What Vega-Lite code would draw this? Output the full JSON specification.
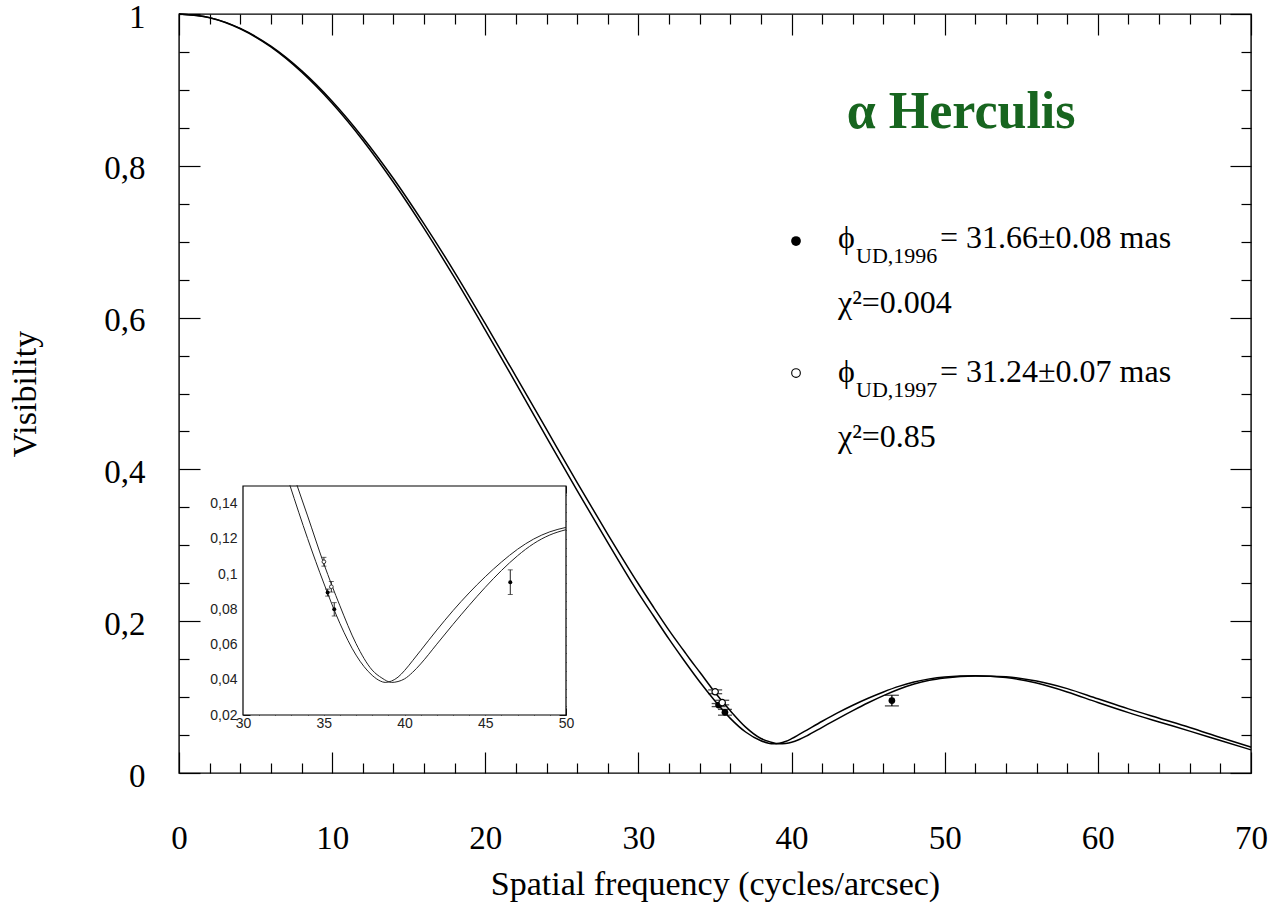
{
  "$schema": "https://vega.github.io/schema/vega-lite/v6.json",
  "width": 1072,
  "height": 759,
  "autosize": {"type": "none"},
  "padding": {"left": 179, "top": 14, "right": 26, "bottom": 134},
  "background": "white",
  "config": {
    "view": {"stroke": "#000", "strokeWidth": 1.4},
    "axis": {"domain": false, "grid": false, "tickColor": "#000", "labelColor": "#000", "titleColor": "#000", "titleFontWeight": "normal", "labelOverlap": false, "labelFlush": false}
  },
  "datasets": {
    "curves": [
      {"model": "1996", "u": 0, "V": 1}, {"model": "1996", "u": 2, "V": 0.9951}, {"model": "1996", "u": 4, "V": 0.9805}, {"model": "1996", "u": 6, "V": 0.9566},
      {"model": "1996", "u": 8, "V": 0.9236}, {"model": "1996", "u": 10, "V": 0.8824}, {"model": "1996", "u": 12, "V": 0.8337}, {"model": "1996", "u": 14, "V": 0.7783},
      {"model": "1996", "u": 16, "V": 0.7175}, {"model": "1996", "u": 18, "V": 0.6522}, {"model": "1996", "u": 20, "V": 0.5836}, {"model": "1996", "u": 22, "V": 0.5134},
      {"model": "1996", "u": 24, "V": 0.4423}, {"model": "1996", "u": 26, "V": 0.372}, {"model": "1996", "u": 28, "V": 0.3035}, {"model": "1996", "u": 30, "V": 0.237},
      {"model": "1996", "u": 31, "V": 0.2065}, {"model": "1996", "u": 32, "V": 0.1763}, {"model": "1996", "u": 32.9, "V": 0.1505}, {"model": "1996", "u": 34, "V": 0.1202},
      {"model": "1996", "u": 35, "V": 0.0949}, {"model": "1996", "u": 36, "V": 0.072}, {"model": "1996", "u": 37, "V": 0.054}, {"model": "1996", "u": 38, "V": 0.0425},
      {"model": "1996", "u": 38.5, "V": 0.0393}, {"model": "1996", "u": 38.8, "V": 0.0385}, {"model": "1996", "u": 39.2, "V": 0.0393}, {"model": "1996", "u": 39.6, "V": 0.0415},
      {"model": "1996", "u": 40, "V": 0.0452}, {"model": "1996", "u": 40.5, "V": 0.0508}, {"model": "1996", "u": 41, "V": 0.0566}, {"model": "1996", "u": 42, "V": 0.0682},
      {"model": "1996", "u": 43, "V": 0.0792}, {"model": "1996", "u": 44, "V": 0.0893}, {"model": "1996", "u": 45, "V": 0.0985}, {"model": "1996", "u": 46, "V": 0.1068},
      {"model": "1996", "u": 47, "V": 0.1141}, {"model": "1996", "u": 48, "V": 0.1199}, {"model": "1996", "u": 49, "V": 0.124}, {"model": "1996", "u": 50, "V": 0.1265},
      {"model": "1996", "u": 52, "V": 0.1282}, {"model": "1996", "u": 54, "V": 0.1258}, {"model": "1996", "u": 56, "V": 0.1185}, {"model": "1996", "u": 58, "V": 0.1068},
      {"model": "1996", "u": 60, "V": 0.0928}, {"model": "1996", "u": 62, "V": 0.0795}, {"model": "1996", "u": 64, "V": 0.0672}, {"model": "1996", "u": 66, "V": 0.0552},
      {"model": "1996", "u": 68, "V": 0.0428}, {"model": "1996", "u": 70, "V": 0.0305},
      {"model": "1997", "u": 0, "V": 1}, {"model": "1997", "u": 2, "V": 0.9952}, {"model": "1997", "u": 4, "V": 0.981}, {"model": "1997", "u": 6, "V": 0.9576},
      {"model": "1997", "u": 8, "V": 0.9254}, {"model": "1997", "u": 10, "V": 0.8851}, {"model": "1997", "u": 12, "V": 0.8374}, {"model": "1997", "u": 14, "V": 0.7833},
      {"model": "1997", "u": 16, "V": 0.7235}, {"model": "1997", "u": 18, "V": 0.6597}, {"model": "1997", "u": 20, "V": 0.592}, {"model": "1997", "u": 22, "V": 0.5226},
      {"model": "1997", "u": 24, "V": 0.4526}, {"model": "1997", "u": 26, "V": 0.3825}, {"model": "1997", "u": 28, "V": 0.3145}, {"model": "1997", "u": 30, "V": 0.249},
      {"model": "1997", "u": 31, "V": 0.218}, {"model": "1997", "u": 32, "V": 0.188}, {"model": "1997", "u": 33, "V": 0.16}, {"model": "1997", "u": 33.34, "V": 0.1505},
      {"model": "1997", "u": 34, "V": 0.133}, {"model": "1997", "u": 35, "V": 0.106}, {"model": "1997", "u": 36, "V": 0.082}, {"model": "1997", "u": 37, "V": 0.0605},
      {"model": "1997", "u": 38, "V": 0.0455}, {"model": "1997", "u": 38.6, "V": 0.041}, {"model": "1997", "u": 39.2, "V": 0.0385}, {"model": "1997", "u": 39.6, "V": 0.039},
      {"model": "1997", "u": 40, "V": 0.0405}, {"model": "1997", "u": 40.5, "V": 0.0442}, {"model": "1997", "u": 41, "V": 0.049}, {"model": "1997", "u": 42, "V": 0.0602},
      {"model": "1997", "u": 43, "V": 0.0714}, {"model": "1997", "u": 44, "V": 0.0822}, {"model": "1997", "u": 45, "V": 0.0925}, {"model": "1997", "u": 46, "V": 0.102},
      {"model": "1997", "u": 47, "V": 0.1104}, {"model": "1997", "u": 48, "V": 0.1173}, {"model": "1997", "u": 49, "V": 0.1222}, {"model": "1997", "u": 50, "V": 0.1252},
      {"model": "1997", "u": 52, "V": 0.1278}, {"model": "1997", "u": 54, "V": 0.1268}, {"model": "1997", "u": 56, "V": 0.1212}, {"model": "1997", "u": 58, "V": 0.1112},
      {"model": "1997", "u": 60, "V": 0.0978}, {"model": "1997", "u": 62, "V": 0.0845}, {"model": "1997", "u": 64, "V": 0.0722}, {"model": "1997", "u": 66, "V": 0.06},
      {"model": "1997", "u": 68, "V": 0.0468}, {"model": "1997", "u": 70, "V": 0.034}
    ],
    "obs": [
      {"epoch": "1996", "u": 35.24, "V": 0.0895, "lo": 0.0875, "hi": 0.0915},
      {"epoch": "1996", "u": 35.65, "V": 0.08, "lo": 0.0762, "hi": 0.0838},
      {"epoch": "1996", "u": 46.55, "V": 0.0954, "lo": 0.0884, "hi": 0.1024},
      {"epoch": "1997", "u": 35.01, "V": 0.107, "lo": 0.1045, "hi": 0.1095},
      {"epoch": "1997", "u": 35.47, "V": 0.0928, "lo": 0.0898, "hi": 0.0958}
    ],
    "legendsym": [
      {"epoch": "1996", "u": 40.29, "V": 0.7009},
      {"epoch": "1997", "u": 40.29, "V": 0.527}
    ],
    "notes": [
      {"role": "title", "label": "α Herculis", "u": 43.6, "V": 0.8498},
      {"role": "main", "label": "ϕ", "u": 43.03, "V": 0.6917},
      {"role": "sub", "label": "UD,1996", "u": 44.21, "V": 0.6719},
      {"role": "main", "label": "= 31.66±0.08 mas", "u": 49.69, "V": 0.6917},
      {"role": "main", "label": "χ²=0.004", "u": 43.03, "V": 0.606},
      {"role": "main", "label": "ϕ", "u": 43.03, "V": 0.5152},
      {"role": "sub", "label": "UD,1997", "u": 44.21, "V": 0.4954},
      {"role": "main", "label": "= 31.24±0.07 mas", "u": 49.69, "V": 0.5152},
      {"role": "main", "label": "χ²=0.85", "u": 43.03, "V": 0.4295}
    ]
  },
  "resolve": {"scale": {"x": "independent", "y": "independent"}, "axis": {"x": "independent", "y": "independent"}},
  "layer": [
    {
      "layer": [
        {
          "data": {"name": "curves"},
          "mark": {"type": "line", "stroke": "#000", "strokeWidth": 1.5, "interpolate": "monotone"},
          "encoding": {
            "x": {"field": "u", "type": "quantitative", "scale": {"domain": [0, 70], "nice": false, "zero": false},
              "axis": {"orient": "bottom", "tickCount": 200, "values": [0,2,4,6,8,10,12,14,16,18,20,22,24,26,28,30,32,34,36,38,40,42,44,46,48,50,52,54,56,58,60,62,64,66,68,70],
                "tickSize": {"condition": {"test": "datum.value % 10 === 0", "value": -21}, "value": -10}, "tickWidth": 1.2,
                "labelExpr": "datum.value % 10 === 0 ? format(datum.value, 'd') : ''", "labelOverlap": false, "labelFlush": false,
                "labelFont": "Liberation Serif", "labelFontSize": 33, "labelPadding": 70,
                "title": "Spatial frequency (cycles/arcsec)", "titleFont": "Liberation Serif", "titleFontSize": 34, "titlePadding": 1}},
            "y": {"field": "V", "type": "quantitative", "scale": {"domain": [0, 1], "nice": false, "zero": false},
              "axis": {"orient": "left", "tickCount": 200, "values": [0,0.05,0.1,0.15,0.2,0.25,0.3,0.35,0.4,0.45,0.5,0.55,0.6,0.65,0.7,0.75,0.8,0.85,0.9,0.95,1],
                "tickSize": {"condition": {"test": "round(datum.value*100) % 20 === 0", "value": -21}, "value": -10}, "tickWidth": 1.2,
                "labelExpr": "round(datum.value*100) % 20 === 0 ? replace(format(datum.value, '~g'), '.', ',') : ''", "labelOverlap": false, "labelFlush": false,
                "labelFont": "Liberation Serif", "labelFontSize": 33, "labelPadding": 55, "labelOffset": 3,
                "title": "Visibility", "titleFont": "Liberation Serif", "titleFontSize": 34, "titlePadding": 61}},
            "detail": {"field": "model"}
          }
        },
        {
          "data": {"name": "obs"},
          "mark": {"type": "rule", "stroke": "#000", "strokeWidth": 1.3},
          "encoding": {
            "x": {"field": "u", "type": "quantitative", "scale": {"domain": [0, 70], "nice": false, "zero": false}},
            "y": {"field": "lo", "type": "quantitative", "scale": {"domain": [0, 1], "nice": false, "zero": false}},
            "y2": {"field": "hi"}
          }
        },
        {
          "data": {"name": "obs"},
          "mark": {"type": "tick", "orient": "horizontal", "color": "#000", "size": 14, "thickness": 1.3},
          "encoding": {
            "x": {"field": "u", "type": "quantitative", "scale": {"domain": [0, 70], "nice": false, "zero": false}},
            "y": {"field": "lo", "type": "quantitative", "scale": {"domain": [0, 1], "nice": false, "zero": false}}
          }
        },
        {
          "data": {"name": "obs"},
          "mark": {"type": "tick", "orient": "horizontal", "color": "#000", "size": 14, "thickness": 1.3},
          "encoding": {
            "x": {"field": "u", "type": "quantitative", "scale": {"domain": [0, 70], "nice": false, "zero": false}},
            "y": {"field": "hi", "type": "quantitative", "scale": {"domain": [0, 1], "nice": false, "zero": false}}
          }
        },
        {
          "data": {"name": "obs"},
          "transform": [{"filter": "datum.epoch === '1996'"}],
          "mark": {"type": "point", "shape": "circle", "filled": true, "color": "#000", "size": 45, "opacity": 1},
          "encoding": {
            "x": {"field": "u", "type": "quantitative", "scale": {"domain": [0, 70], "nice": false, "zero": false}},
            "y": {"field": "V", "type": "quantitative", "scale": {"domain": [0, 1], "nice": false, "zero": false}}
          }
        },
        {
          "data": {"name": "obs"},
          "transform": [{"filter": "datum.epoch === '1997'"}],
          "mark": {"type": "point", "shape": "circle", "filled": false, "fill": "white", "stroke": "#000", "strokeWidth": 1.2, "size": 40, "opacity": 1},
          "encoding": {
            "x": {"field": "u", "type": "quantitative", "scale": {"domain": [0, 70], "nice": false, "zero": false}},
            "y": {"field": "V", "type": "quantitative", "scale": {"domain": [0, 1], "nice": false, "zero": false}}
          }
        },
        {
          "data": {"name": "legendsym"},
          "transform": [{"filter": "datum.epoch === '1996'"}],
          "mark": {"type": "point", "shape": "circle", "filled": true, "color": "#000", "size": 95, "opacity": 1},
          "encoding": {
            "x": {"field": "u", "type": "quantitative", "scale": {"domain": [0, 70], "nice": false, "zero": false}},
            "y": {"field": "V", "type": "quantitative", "scale": {"domain": [0, 1], "nice": false, "zero": false}}
          }
        },
        {
          "data": {"name": "legendsym"},
          "transform": [{"filter": "datum.epoch === '1997'"}],
          "mark": {"type": "point", "shape": "circle", "filled": false, "fill": "white", "stroke": "#000", "strokeWidth": 1.1, "size": 75, "opacity": 1},
          "encoding": {
            "x": {"field": "u", "type": "quantitative", "scale": {"domain": [0, 70], "nice": false, "zero": false}},
            "y": {"field": "V", "type": "quantitative", "scale": {"domain": [0, 1], "nice": false, "zero": false}}
          }
        },
        {
          "data": {"name": "notes"},
          "transform": [{"filter": "datum.role === 'title'"}],
          "mark": {"type": "text", "font": "Liberation Serif", "fontWeight": "bold", "fontSize": 52, "color": "#17651f", "align": "left", "baseline": "alphabetic"},
          "encoding": {
            "x": {"field": "u", "type": "quantitative", "scale": {"domain": [0, 70], "nice": false, "zero": false}},
            "y": {"field": "V", "type": "quantitative", "scale": {"domain": [0, 1], "nice": false, "zero": false}},
            "text": {"field": "label"}
          }
        },
        {
          "data": {"name": "notes"},
          "transform": [{"filter": "datum.role === 'main'"}],
          "mark": {"type": "text", "font": "Liberation Serif", "fontSize": 32, "color": "#000", "align": "left", "baseline": "alphabetic"},
          "encoding": {
            "x": {"field": "u", "type": "quantitative", "scale": {"domain": [0, 70], "nice": false, "zero": false}},
            "y": {"field": "V", "type": "quantitative", "scale": {"domain": [0, 1], "nice": false, "zero": false}},
            "text": {"field": "label"}
          }
        },
        {
          "data": {"name": "notes"},
          "transform": [{"filter": "datum.role === 'sub'"}],
          "mark": {"type": "text", "font": "Liberation Serif", "fontSize": 22, "color": "#000", "align": "left", "baseline": "alphabetic"},
          "encoding": {
            "x": {"field": "u", "type": "quantitative", "scale": {"domain": [0, 70], "nice": false, "zero": false}},
            "y": {"field": "V", "type": "quantitative", "scale": {"domain": [0, 1], "nice": false, "zero": false}},
            "text": {"field": "label"}
          }
        }
      ]
    },
    {
      "data": {"name": "curves"},
      "mark": {"type": "point", "opacity": 0},
      "encoding": {
        "x": {"field": "u", "type": "quantitative", "scale": {"domain": [0, 70], "nice": false, "zero": false},
          "axis": {"orient": "top", "tickCount": 200, "values": [0,2,4,6,8,10,12,14,16,18,20,22,24,26,28,30,32,34,36,38,40,42,44,46,48,50,52,54,56,58,60,62,64,66,68,70],
            "tickSize": {"condition": {"test": "datum.value % 10 === 0", "value": -21}, "value": -10}, "tickWidth": 1.2, "labels": false, "title": null}},
        "y": {"field": "V", "type": "quantitative", "scale": {"domain": [0, 1], "nice": false, "zero": false},
          "axis": {"orient": "right", "tickCount": 200, "values": [0,0.05,0.1,0.15,0.2,0.25,0.3,0.35,0.4,0.45,0.5,0.55,0.6,0.65,0.7,0.75,0.8,0.85,0.9,0.95,1],
            "tickSize": {"condition": {"test": "round(datum.value*100) % 20 === 0", "value": -21}, "value": -10}, "tickWidth": 1.2, "labels": false, "title": null}}
      }
    },
    {
      "layer": [
        {
          "data": {"values": [{"frame": "inset"}]},
          "mark": {"type": "rect", "fill": "white", "stroke": "#000", "strokeWidth": 1.2},
          "encoding": {
            "x": {"datum": 30, "type": "quantitative", "scale": {"domain": [30, 50], "range": [64, 387], "nice": false, "zero": false},
              "axis": {"orient": "bottom", "offset": -58, "tickCount": 200, "values": [30,31,32,33,34,35,36,37,38,39,40,41,42,43,44,45,46,47,48,49,50],
                "tickSize": {"condition": {"test": "datum.value % 5 === 0", "value": -7}, "value": -4}, "tickWidth": 1, "tickColor": "#222",
                "labelExpr": "datum.value % 5 === 0 ? format(datum.value, 'd') : ''", "labelOverlap": false, "labelFlush": false,
                "labelFont": "Liberation Sans", "labelFontSize": 14, "labelColor": "#222", "labelPadding": 8, "title": null}},
            "x2": {"datum": 50},
            "y": {"datum": 0.02, "type": "quantitative", "scale": {"domain": [0.02, 0.15], "range": [701, 472], "nice": false, "zero": false},
              "axis": {"orient": "left", "offset": -64, "tickCount": 200, "values": [0.02,0.025,0.03,0.035,0.04,0.045,0.05,0.055,0.06,0.065,0.07,0.075,0.08,0.085,0.09,0.095,0.1,0.105,0.11,0.115,0.12,0.125,0.13,0.135,0.14,0.145,0.15],
                "tickSize": {"condition": {"test": "round(datum.value*1000) % 20 === 0", "value": -7}, "value": -4}, "tickWidth": 1, "tickColor": "#222",
                "labelExpr": "round(datum.value*1000) % 20 === 0 && datum.value < 0.149 ? replace(format(datum.value, '~g'), '.', ',') : ''", "labelOverlap": false, "labelFlush": false,
                "labelFont": "Liberation Sans", "labelFontSize": 14, "labelColor": "#222", "labelPadding": 13, "title": null}},
            "y2": {"datum": 0.15}
          }
        },
        {
          "data": {"name": "curves"},
          "transform": [{"filter": "datum.u >= 30 && datum.u <= 50 && datum.V <= 0.1506"}],
          "mark": {"type": "line", "stroke": "#222", "strokeWidth": 1, "interpolate": "monotone"},
          "encoding": {
            "x": {"field": "u", "type": "quantitative", "scale": {"domain": [30, 50], "range": [64, 387], "nice": false, "zero": false}},
            "y": {"field": "V", "type": "quantitative", "scale": {"domain": [0.02, 0.15], "range": [701, 472], "nice": false, "zero": false}},
            "detail": {"field": "model"}
          }
        },
        {
          "data": {"name": "obs"},
          "mark": {"type": "rule", "stroke": "#222", "strokeWidth": 1},
          "encoding": {
            "x": {"field": "u", "type": "quantitative", "scale": {"domain": [30, 50], "range": [64, 387], "nice": false, "zero": false}},
            "y": {"field": "lo", "type": "quantitative", "scale": {"domain": [0.02, 0.15], "range": [701, 472], "nice": false, "zero": false}},
            "y2": {"field": "hi"}
          }
        },
        {
          "data": {"name": "obs"},
          "mark": {"type": "tick", "orient": "horizontal", "color": "#222", "size": 5, "thickness": 1},
          "encoding": {
            "x": {"field": "u", "type": "quantitative", "scale": {"domain": [30, 50], "range": [64, 387], "nice": false, "zero": false}},
            "y": {"field": "lo", "type": "quantitative", "scale": {"domain": [0.02, 0.15], "range": [701, 472], "nice": false, "zero": false}}
          }
        },
        {
          "data": {"name": "obs"},
          "mark": {"type": "tick", "orient": "horizontal", "color": "#222", "size": 5, "thickness": 1},
          "encoding": {
            "x": {"field": "u", "type": "quantitative", "scale": {"domain": [30, 50], "range": [64, 387], "nice": false, "zero": false}},
            "y": {"field": "hi", "type": "quantitative", "scale": {"domain": [0.02, 0.15], "range": [701, 472], "nice": false, "zero": false}}
          }
        },
        {
          "data": {"name": "obs"},
          "transform": [{"filter": "datum.epoch === '1996'"}],
          "mark": {"type": "point", "shape": "circle", "filled": true, "color": "#000", "size": 16, "opacity": 1},
          "encoding": {
            "x": {"field": "u", "type": "quantitative", "scale": {"domain": [30, 50], "range": [64, 387], "nice": false, "zero": false}},
            "y": {"field": "V", "type": "quantitative", "scale": {"domain": [0.02, 0.15], "range": [701, 472], "nice": false, "zero": false}}
          }
        },
        {
          "data": {"name": "obs"},
          "transform": [{"filter": "datum.epoch === '1997'"}],
          "mark": {"type": "point", "shape": "circle", "filled": false, "fill": "white", "stroke": "#333", "strokeWidth": 1, "size": 14, "opacity": 1},
          "encoding": {
            "x": {"field": "u", "type": "quantitative", "scale": {"domain": [30, 50], "range": [64, 387], "nice": false, "zero": false}},
            "y": {"field": "V", "type": "quantitative", "scale": {"domain": [0.02, 0.15], "range": [701, 472], "nice": false, "zero": false}}
          }
        }
      ]
    },
    {
      "data": {"values": [{"frame": "inset"}]},
      "mark": {"type": "point", "opacity": 0},
      "encoding": {
        "x": {"datum": 30, "type": "quantitative", "scale": {"domain": [30, 50], "range": [64, 387], "nice": false, "zero": false},
          "axis": {"orient": "top", "offset": -472, "tickCount": 200, "values": [30,31,32,33,34,35,36,37,38,39,40,41,42,43,44,45,46,47,48,49,50],
            "tickSize": {"condition": {"test": "datum.value % 5 === 0", "value": -7}, "value": -4}, "tickWidth": 1, "tickColor": "#222", "labels": false, "title": null}},
        "y": {"datum": 0.02, "type": "quantitative", "scale": {"domain": [0.02, 0.15], "range": [701, 472], "nice": false, "zero": false},
          "axis": {"orient": "right", "offset": -685, "tickCount": 200, "values": [0.02,0.025,0.03,0.035,0.04,0.045,0.05,0.055,0.06,0.065,0.07,0.075,0.08,0.085,0.09,0.095,0.1,0.105,0.11,0.115,0.12,0.125,0.13,0.135,0.14,0.145,0.15],
            "tickSize": {"condition": {"test": "round(datum.value*1000) % 20 === 0", "value": -7}, "value": -4}, "tickWidth": 1, "tickColor": "#222", "labels": false, "title": null}}
      }
    }
  ]
}
